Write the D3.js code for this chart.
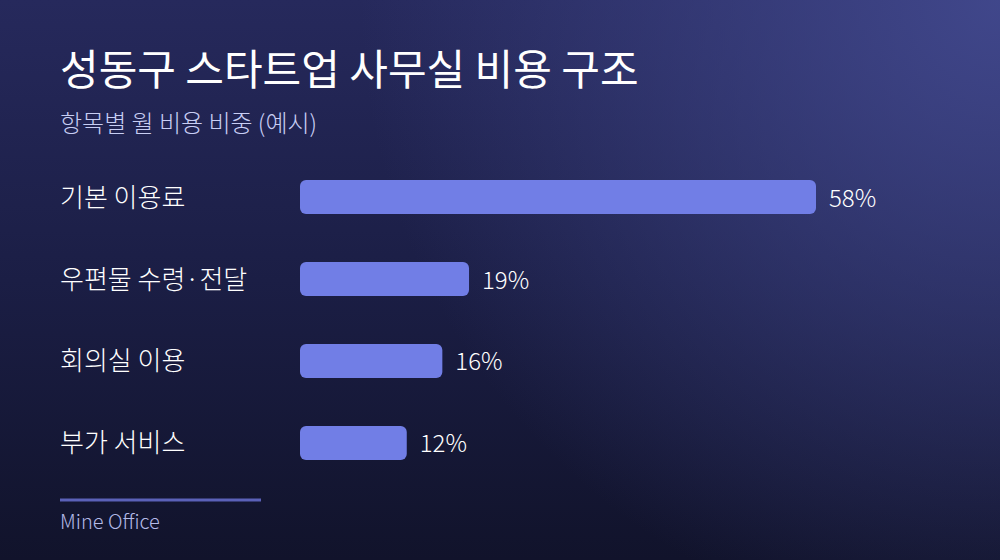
<!DOCTYPE html>
<html>
<head>
<meta charset="utf-8">
<script src="https://cdn.jsdelivr.net/npm/d3@7"></script>
<style>
  html, body { margin: 0; padding: 0; background: #12152e; }
  svg { display: block; }
</style>
</head>
<body>
<div id="chart"></div>
<script>
  // data
  const categories = ["기본 이용료", "우편물 수령·전달", "회의실 이용", "부가 서비스"];
  const shares = [58, 19, 16, 12];
  const valueLabels = ["58%", "19%", "16%", "12%"];

  const width = 1000;
  const height = 560;
  const font = "'Noto Sans CJK KR', 'Noto Sans', sans-serif";

  const svg = d3.select("#chart")
    .append("svg")
    .attr("width", width)
    .attr("height", height);

  // background: vertical fade plus a glow in the top right corner
  const defs = svg.append("defs");
  const lin = defs.append("linearGradient")
    .attr("id", "bgLin")
    .attr("x1", 0).attr("y1", 0).attr("x2", 0).attr("y2", 1);
  lin.append("stop").attr("offset", "0%").attr("stop-color", "#26295c");
  lin.append("stop").attr("offset", "50%").attr("stop-color", "#1b1e45");
  lin.append("stop").attr("offset", "100%").attr("stop-color", "#11132b");

  const glow = defs.append("radialGradient")
    .attr("id", "bgGlow")
    .attr("gradientUnits", "userSpaceOnUse")
    .attr("cx", 1000).attr("cy", 0).attr("r", 640);
  glow.append("stop").attr("offset", "0%").attr("stop-color", "#434a90").attr("stop-opacity", 0.9);
  glow.append("stop").attr("offset", "100%").attr("stop-color", "#434a90").attr("stop-opacity", 0);

  svg.append("rect")
    .attr("width", width)
    .attr("height", height)
    .attr("fill", "url(#bgLin)");
  svg.append("rect")
    .attr("width", width)
    .attr("height", height)
    .attr("fill", "url(#bgGlow)");

  // title
  svg.append("text")
    .attr("x", 60)
    .attr("y", 85)
    .attr("fill", "#ffffff")
    .style("font-family", font)
    .style("font-size", "42px")
    .style("font-weight", 400)
    .text("성동구 스타트업 사무실 비용 구조");

  svg.append("text")
    .attr("x", 60)
    .attr("y", 132)
    .attr("fill", "#c8cef4")
    .style("font-family", font)
    .style("font-size", "24px")
    .style("font-weight", 300)
    .text("항목별 월 비용 비중 (예시)");

  // scales
  const x = d3.scaleLinear()
    .domain([0, d3.max(shares)])
    .range([0, 516]);

  const y = d3.scaleBand()
    .domain(categories)
    .range([155.4, 484.6])
    .paddingInner(0.585)
    .paddingOuter(0.3);

  const barLeft = 300;

  const rows = svg.selectAll(".row")
    .data(categories)
    .enter()
    .append("g")
    .attr("class", "row");

  rows.append("text")
    .attr("x", 60)
    .attr("y", d => y(d) + y.bandwidth() / 2 - 2)
    .attr("dominant-baseline", "central")
    .attr("fill", "#ffffff")
    .style("font-family", font)
    .style("font-size", "26px")
    .style("font-weight", 300)
    .text(d => d);

  rows.append("rect")
    .attr("x", barLeft)
    .attr("y", d => y(d))
    .attr("width", (d, i) => x(shares[i]))
    .attr("height", y.bandwidth())
    .attr("rx", 6)
    .attr("fill", "#717ee6");

  rows.append("text")
    .attr("x", (d, i) => barLeft + x(shares[i]) + 13)
    .attr("y", d => y(d) + y.bandwidth() / 2 - 1)
    .attr("dominant-baseline", "central")
    .attr("fill", "#ffffff")
    .style("font-family", font)
    .style("font-size", "24px")
    .style("font-weight", 300)
    .text((d, i) => valueLabels[i]);

  // footer
  svg.append("line")
    .attr("x1", 60).attr("x2", 261)
    .attr("y1", 500).attr("y2", 500)
    .attr("stroke", "#5b61b8")
    .attr("stroke-width", 3);

  svg.append("text")
    .attr("x", 60)
    .attr("y", 529)
    .attr("fill", "#b4bae8")
    .style("font-family", font)
    .style("font-size", "20px")
    .style("font-weight", 300)
    .text("Mine Office");
</script>
</body>
</html>
